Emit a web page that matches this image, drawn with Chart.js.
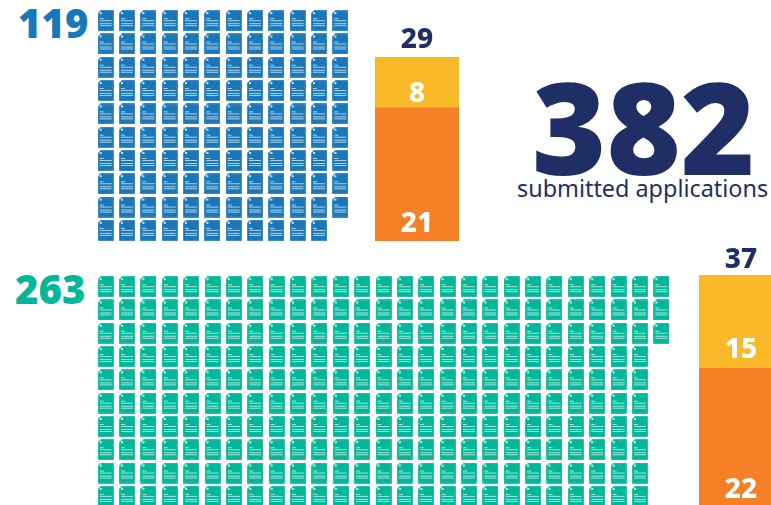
<!DOCTYPE html>
<html>
<head>
<meta charset="utf-8">
<script src="https://cdn.jsdelivr.net/npm/chart.js@4"></script>
<style>
    html, body { margin: 0; padding: 0; background: #fff; overflow: hidden; width: 771px; height: 505px; }
    .box { position: absolute; }
    .txt { position: absolute; font-family: "Noto Sans", sans-serif; font-weight: 900; white-space: nowrap; line-height: 1; }
</style>
</head>
<body>
<div class="box" style="left:94.6px;top:9px;width:256px;height:233px"><canvas id="topWaffle"></canvas></div>
<div class="box" style="left:94.6px;top:275px;width:577px;height:233px"><canvas id="bottomWaffle"></canvas></div>
<div class="box" style="left:375px;top:17px;width:84px;height:224px"><canvas id="topBar"></canvas></div>
<div class="box" style="left:699px;top:235px;width:72px;height:270px"><canvas id="bottomBar"></canvas></div>

<div class="txt" id="topCount" style="left:18px;top:3px;font-size:40px;color:#1a78ba"></div>
<div class="txt" id="bottomCount" style="left:15px;top:269px;font-size:40px;color:#00b899"></div>
<div class="txt" id="totalCount" style="left:532px;top:62px;font-size:127px;color:#1f2f66"></div>
<div class="txt" id="totalLabel" style="left:517px;top:177px;font-size:23.4px;font-weight:400;color:#1f2f66"></div>

<script>
const totalApplications = 382;
const totalLabel = "submitted applications";
const waffleCounts = [119, 263];
const waffleRows = 10;
const topBarValues = [21, 8];
const topBarTotal = 29;
const bottomBarValues = [22, 15];
const bottomBarTotal = 37;

const blue = "#1a78ba";
const green = "#00b899";
const orange = "#f58025";
const yellow = "#f9b928";
const navy = "#1f2f66";

document.getElementById("topCount").textContent = waffleCounts[0];
document.getElementById("bottomCount").textContent = waffleCounts[1];
document.getElementById("totalCount").textContent = totalApplications;
document.getElementById("totalLabel").textContent = totalLabel;

// little document icon used as the point style
function makeIcon(color) {
    const c = document.createElement("canvas");
    c.width = 16;
    c.height = 21;
    const ctx = c.getContext("2d");
    ctx.fillStyle = color;
    ctx.beginPath();
    ctx.moveTo(3, 0);
    ctx.lineTo(16, 0);
    ctx.lineTo(16, 21);
    ctx.lineTo(0, 21);
    ctx.lineTo(0, 3);
    ctx.closePath();
    ctx.fill();
    ctx.strokeStyle = "rgba(255,255,255,0.3)";
    ctx.lineWidth = 1;
    ctx.stroke();
    ctx.fillStyle = "rgba(255,255,255,0.8)";
    ctx.fillRect(2, 2, 2, 2);
    ctx.fillStyle = "rgba(255,255,255,0.65)";
    ctx.fillRect(2, 8, 4, 1);
    ctx.fillRect(2, 10, 12, 1);
    ctx.fillRect(2, 13, 12, 1);
    ctx.fillRect(2, 15, 12, 1);
    return c;
}

// fills the grid column by column, top to bottom
function wafflePoints(count) {
    const points = [];
    for (let i = 0; i < count; i++) {
        points.push({ x: Math.floor(i / waffleRows), y: i % waffleRows });
    }
    return points;
}

function makeWaffle(id, count, color) {
    const ctx = document.getElementById(id).getContext("2d");
    const columns = Math.ceil(count / waffleRows);
    return new Chart(ctx, {
        type: "scatter",
        data: {
            datasets: [{
                data: wafflePoints(count),
                pointStyle: makeIcon(color),
                clip: false
            }]
        },
        options: {
            responsive: true,
            maintainAspectRatio: false,
            animation: false,
            layout: { autoPadding: false },
            plugins: { legend: { display: false }, tooltip: { enabled: false } },
            scales: {
                x: { display: false, min: -0.5, max: columns - 0.5 },
                y: { display: false, min: -0.5, max: waffleRows - 0.5, reverse: true }
            }
        }
    });
}

// numbers inside the segments and the total above the bar
const barText = {
    id: "barText",
    afterDatasetsDraw(chart, args, opts) {
        const ctx = chart.ctx;
        const y = chart.scales.y;
        ctx.save();
        ctx.textAlign = "center";
        ctx.font = "800 28px 'Noto Sans'";
        ctx.fillStyle = "#fff";
        chart.data.datasets.forEach((ds, i) => {
            const bar = chart.getDatasetMeta(i).data[0];
            ctx.fillText(ds.data[0], bar.x + opts.shift, bar.base - opts.gaps[i]);
        });
        ctx.fillStyle = navy;
        const first = chart.getDatasetMeta(0).data[0];
        ctx.fillText(opts.total, first.x + opts.shift, y.getPixelForValue(opts.total) - opts.gaps[2]);
        ctx.restore();
    }
};

function makeBar(id, values, total, shift, gaps) {
    const ctx = document.getElementById(id).getContext("2d");
    return new Chart(ctx, {
        type: "bar",
        data: {
            labels: [""],
            datasets: [
                { data: [values[0]], backgroundColor: orange },
                { data: [values[1]], backgroundColor: yellow }
            ]
        },
        plugins: [barText],
        options: {
            responsive: true,
            maintainAspectRatio: false,
            animation: false,
            layout: { padding: { top: 40 } },
            datasets: { bar: { barPercentage: 1, categoryPercentage: 1 } },
            plugins: {
                legend: { display: false },
                tooltip: { enabled: false },
                barText: { total: total, shift: shift, gaps: gaps }
            },
            scales: {
                x: { display: false, stacked: true },
                y: { display: false, stacked: true, min: 0, max: total }
            }
        }
    });
}

const topWaffle = makeWaffle("topWaffle", waffleCounts[0], blue);
const bottomWaffle = makeWaffle("bottomWaffle", waffleCounts[1], green);
const topBar = makeBar("topBar", topBarValues, topBarTotal, 0, [9, 6, 9]);
const bottomBar = makeBar("bottomBar", bottomBarValues, bottomBarTotal, 6, [7, 10, 7]);
</script>
</body>
</html>
